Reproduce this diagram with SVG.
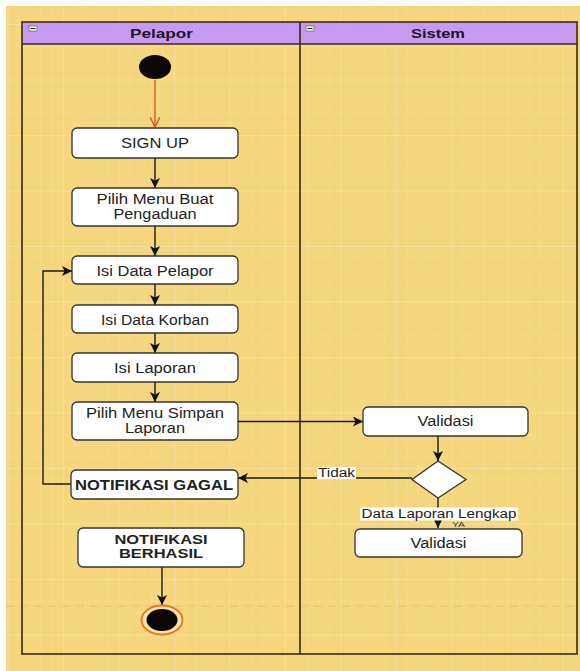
<svg xmlns="http://www.w3.org/2000/svg" width="580" height="671" viewBox="0 0 580 671">
<style>
.box{fill:#ffffff;stroke:#333333;stroke-width:1.3}
.t{font-family:"Liberation Sans",Arial,sans-serif;font-size:14px;fill:#222222;text-anchor:middle}
.b{font-weight:bold}
.hd{font-family:"Liberation Sans",Arial,sans-serif;font-size:13px;font-weight:bold;fill:#1e1230;text-anchor:middle}
.edge{fill:none;stroke:#1a1a1a;stroke-width:1.4}
.lane{fill:none;stroke:#3a2a1a;stroke-width:1.6}
</style>
<defs>
<pattern id="grid" x="7.5" y="24" width="55.5" height="55.5" patternUnits="userSpaceOnUse">
<path d="M11.1 0V55.5M22.2 0V55.5M33.3 0V55.5M44.4 0V55.5M0 11.1H55.5M0 22.2H55.5M0 33.3H55.5M0 44.4H55.5" stroke="#f6dc8c" stroke-width="0.8" fill="none"/>
<path d="M0 0V55.5M0 0H55.5" stroke="#f7e4ab" stroke-width="1.5" fill="none"/>
</pattern>
<marker id="arr" viewBox="0 0 10 10" refX="10" refY="5" markerWidth="10" markerHeight="10" markerUnits="userSpaceOnUse" orient="auto">
<path d="M0 0L10 5L0 10L2.5 5Z" fill="#111111"/>
</marker>
<marker id="arrR" viewBox="0 0 10 10" refX="10" refY="5" markerWidth="10" markerHeight="10" markerUnits="userSpaceOnUse" orient="auto">
<path d="M0 0L10 5L0 10" fill="none" stroke="#d9502a" stroke-width="1.3"/>
</marker>
</defs>
<rect x="0" y="0" width="580" height="671" fill="#ffffff"/>
<rect x="6" y="6" width="574" height="665" fill="#f5d67c"/>
<rect x="6" y="6" width="574" height="665" fill="url(#grid)"/>
<line x1="6" y1="606" x2="580" y2="606" stroke="#dcc07a" stroke-width="1.2" stroke-dasharray="8 6"/>

<g id="pool">
<rect x="22" y="22" width="555" height="22" fill="#c59bf2"/>
<rect x="22" y="22" width="555" height="632" class="lane"/>
<line x1="22" y1="44" x2="577" y2="44" class="lane"/>
<line x1="300" y1="22" x2="300" y2="654" class="lane"/>
</g>
<g id="lane-pelapor">
<rect x="29" y="26" width="8" height="5" fill="#f0f0f0" stroke="#555" stroke-width="0.6"/>
<line x1="30.5" y1="28.5" x2="35.5" y2="28.5" stroke="#222" stroke-width="1"/>
<text class="hd" x="161.5" y="38" textLength="63" lengthAdjust="spacingAndGlyphs">Pelapor</text>
</g>
<g id="lane-sistem">
<rect x="306" y="26" width="8" height="5" fill="#f0f0f0" stroke="#555" stroke-width="0.6"/>
<line x1="307.5" y1="28.5" x2="312.5" y2="28.5" stroke="#222" stroke-width="1"/>
<text class="hd" x="438" y="38" textLength="54" lengthAdjust="spacingAndGlyphs">Sistem</text>
</g>

<g id="connectors">
<line x1="155" y1="80" x2="155" y2="127" stroke="#d9502a" stroke-width="1.3" marker-end="url(#arrR)"/>
<line x1="155" y1="158" x2="155" y2="188" class="edge" marker-end="url(#arr)"/>
<line x1="155" y1="226" x2="155" y2="256" class="edge" marker-end="url(#arr)"/>
<line x1="155" y1="284" x2="155" y2="305" class="edge" marker-end="url(#arr)"/>
<line x1="155" y1="333" x2="155" y2="353" class="edge" marker-end="url(#arr)"/>
<line x1="155" y1="382" x2="155" y2="402" class="edge" marker-end="url(#arr)"/>
<line x1="238" y1="421.5" x2="363" y2="421.5" class="edge" marker-end="url(#arr)"/>
<line x1="438" y1="436" x2="438" y2="461" class="edge" marker-end="url(#arr)"/>
<line x1="412" y1="478" x2="238" y2="478" class="edge" marker-end="url(#arr)"/>
<polyline points="71,484 43,484 43,271 72,271" class="edge" marker-end="url(#arr)"/>
<line x1="438" y1="498" x2="438" y2="528" class="edge" marker-end="url(#arr)"/>
<line x1="162" y1="567" x2="162" y2="605" class="edge" marker-end="url(#arr)"/>
<rect x="317" y="467" width="39" height="12" fill="#ffffff"/>
<text class="t" x="336.5" y="477" style="font-size:12px" textLength="37" lengthAdjust="spacingAndGlyphs">Tidak</text>
<rect x="360" y="507.5" width="158" height="13" fill="#ffffff"/>
<text class="t" x="439" y="518" style="font-size:12px" textLength="155" lengthAdjust="spacingAndGlyphs">Data Laporan Lengkap</text>
<text class="t" x="458.5" y="527" style="font-size:8px;fill:#333" textLength="13" lengthAdjust="spacingAndGlyphs">YA</text>
</g>

<g id="start">
<ellipse cx="155" cy="67" rx="16" ry="12" fill="#0d0608"/>
</g>
<g id="signup">
<rect class="box" x="72" y="128" width="166" height="30" rx="5"/>
<text class="t" x="155" y="148" textLength="68" lengthAdjust="spacingAndGlyphs">SIGN UP</text>
</g>
<g id="pilih-menu-buat">
<rect class="box" x="72" y="188" width="166" height="38" rx="5"/>
<text class="t" x="155" y="204" textLength="117" lengthAdjust="spacingAndGlyphs">Pilih Menu Buat</text>
<text class="t" x="155" y="219" textLength="83" lengthAdjust="spacingAndGlyphs">Pengaduan</text>
</g>
<g id="isi-data-pelapor">
<rect class="box" x="72" y="256" width="166" height="28" rx="5"/>
<text class="t" x="155" y="275.5" textLength="117" lengthAdjust="spacingAndGlyphs">Isi Data Pelapor</text>
</g>
<g id="isi-data-korban">
<rect class="box" x="72" y="305" width="166" height="28" rx="5"/>
<text class="t" x="155" y="324.5" textLength="108" lengthAdjust="spacingAndGlyphs">Isi Data Korban</text>
</g>
<g id="isi-laporan">
<rect class="box" x="72" y="353" width="166" height="29" rx="5"/>
<text class="t" x="155" y="372.5" textLength="82" lengthAdjust="spacingAndGlyphs">Isi Laporan</text>
</g>
<g id="pilih-menu-simpan">
<rect class="box" x="72" y="402" width="166" height="38" rx="5"/>
<text class="t" x="155" y="418" textLength="138" lengthAdjust="spacingAndGlyphs">Pilih Menu Simpan</text>
<text class="t" x="155" y="433" textLength="60" lengthAdjust="spacingAndGlyphs">Laporan</text>
</g>
<g id="notifikasi-gagal">
<rect class="box" x="71" y="470" width="167" height="29" rx="5"/>
<text class="t b" x="154" y="490" style="font-size:14.5px" textLength="158" lengthAdjust="spacingAndGlyphs">NOTIFIKASI GAGAL</text>
</g>
<g id="validasi-1">
<rect class="box" x="363" y="407" width="165" height="29" rx="5"/>
<text class="t" x="445.5" y="426" textLength="56" lengthAdjust="spacingAndGlyphs">Validasi</text>
</g>
<g id="decision">
<polygon points="438,461 466,479.5 438,498 412,479.5" fill="#ffffff" stroke="#333333" stroke-width="1.3"/>
</g>
<g id="validasi-2">
<rect class="box" x="355" y="529" width="167" height="28" rx="5"/>
<text class="t" x="438.5" y="548" textLength="56" lengthAdjust="spacingAndGlyphs">Validasi</text>
</g>
<g id="notifikasi-berhasil">
<rect class="box" x="78" y="528" width="166" height="39" rx="5"/>
<text class="t b" x="161" y="544" style="font-size:13.5px" textLength="93" lengthAdjust="spacingAndGlyphs">NOTIFIKASI</text>
<text class="t b" x="161" y="558" style="font-size:13.5px" textLength="84" lengthAdjust="spacingAndGlyphs">BERHASIL</text>
</g>
<g id="end">
<ellipse cx="162" cy="620" rx="20.5" ry="14.5" fill="#f9e3a8" stroke="#e8742a" stroke-width="1.8"/>
<ellipse cx="162" cy="620" rx="15.5" ry="11" fill="#0d0608"/>
</g>
</svg>
